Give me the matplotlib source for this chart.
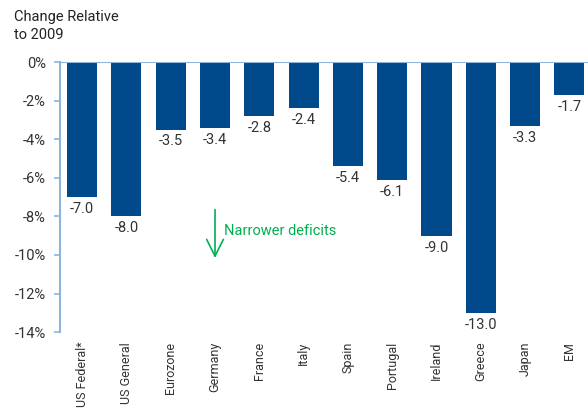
import matplotlib.pyplot as plt
from matplotlib import font_manager

countries = ['US Federal*', 'US General', 'Eurozone', 'Germany', 'France', 'Italy',
             'Spain', 'Portugal', 'Ireland', 'Greece', 'Japan', 'EM']
changes = [-7.0, -8.0, -3.5, -3.4, -2.8, -2.4, -5.4, -6.1, -9.0, -13.0, -3.3, -1.7]
yticks = [0, -2, -4, -6, -8, -10, -12, -14]

# narrow font if available, else Roboto
names = {f.name for f in font_manager.fontManager.ttflist}
fam = ['Liberation Sans Narrow'] if 'Liberation Sans Narrow' in names else ['Roboto']
plt.rcParams['font.family'] = fam + ['DejaVu Sans']

bar_color = '#004a8c'
axis_color = '#8db4dc'
text_color = '#333333'

fig = plt.figure(figsize=(5.88, 4.09), dpi=100)
ax = fig.add_axes([0.102, 0.188, 0.898, 0.66])

x = list(range(len(countries)))
ax.bar(x, changes, width=0.68, color=bar_color, zorder=2)
for xi, v in zip(x, changes):
    ax.text(xi, v - 0.25, f'{v:.1f}', ha='center', va='top', fontsize=10.5, color=text_color)

ax.axhline(0, color=axis_color, lw=1.5, zorder=3)
ax.set_xlim(-0.5, 11.42)
ax.set_ylim(-14, 0)
ax.set_yticks(yticks)
ax.set_yticklabels([f'{t}%' for t in yticks], fontsize=10.5, color=text_color)
ax.set_xticks(x)
ax.set_xticklabels(countries, rotation=90, fontsize=9, color=text_color)
ax.tick_params(axis='x', length=0, pad=7)
ax.tick_params(axis='y', color=axis_color, length=4, width=1.2, pad=6)

for s in ['top', 'right', 'bottom']:
    ax.spines[s].set_visible(False)
ax.spines['left'].set_color(axis_color)
ax.spines['left'].set_linewidth(1.5)

# green arrow + note
ax.annotate('', xy=(3.0, -10.3), xytext=(3.0, -7.5),
            arrowprops=dict(arrowstyle='->,head_length=0.6,head_width=0.3',
                            color='#00b050', lw=1.2, mutation_scale=20))
ax.text(3.2, -8.75, 'Narrower deficits', color='#00b050', fontsize=10.5, va='center', ha='left')

fig.text(0.024, 0.975, 'Change Relative\nto 2009', fontsize=10.5, color='#222222',
         va='top', ha='left', linespacing=1.3)

fig.savefig('out.png', dpi=100)
